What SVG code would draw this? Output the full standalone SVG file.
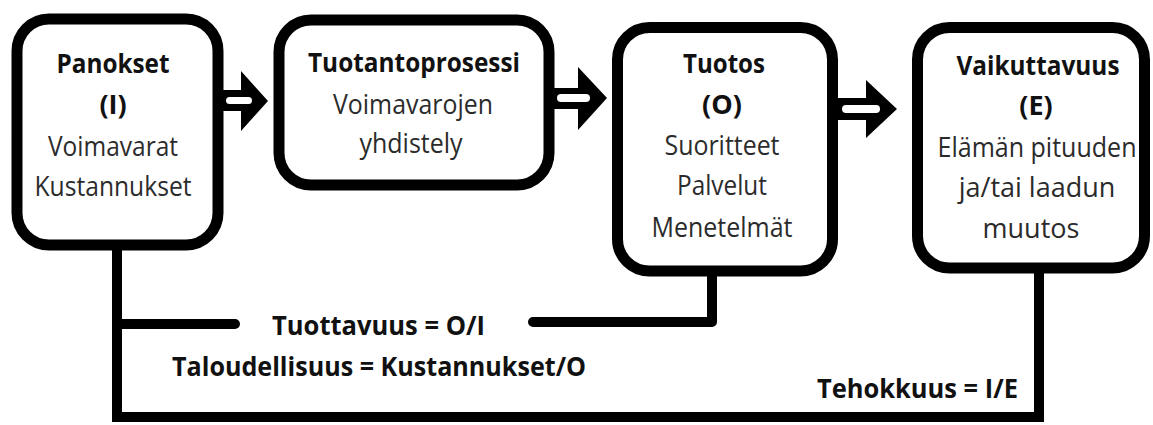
<svg xmlns="http://www.w3.org/2000/svg" width="1153" height="425" viewBox="0 0 1153 425">
<style>
.box{fill:#fff;stroke:#000;stroke-width:11}
.ln{fill:none;stroke:#000;stroke-width:10}
.t{font-family:"Open Sans","Noto Sans","Liberation Sans",sans-serif;font-size:27px;text-anchor:middle;fill:#2b2b2b}
.b{font-weight:bold;fill:#111}
.ar{fill:#000}
.aw{fill:#fff}
</style>
<rect width="1153" height="425" fill="#fff"/>
<g id="connectors">
<path class="ln" d="M117,245 V417 H1039 V268" stroke-linejoin="miter"/>
<path class="ln" d="M117,324 H235" stroke-linecap="round" stroke-width="11"/>
<path class="ln" d="M533,322 H712 V271" stroke-linecap="round" stroke-linejoin="round" stroke-width="11"/>
<g id="arrow1"><path class="ar" d="M218,90 H241 V71 L268,101 L241,131 V111 H218 Z"/><rect class="aw" x="226" y="97" width="26" height="7" rx="3.5"/></g>
<g id="arrow2"><path class="ar" d="M549,88 H578 V67 L607,98 L578,130 V109 H549 Z"/><rect class="aw" x="557" y="94" width="33" height="8" rx="4"/></g>
<g id="arrow3"><path class="ar" d="M833,98 H866 V80 L897,109 L866,138 V120 H833 Z"/><rect class="aw" x="842" y="105" width="38" height="8" rx="4"/></g>
</g>
<g id="panokset">
<rect class="box" x="17" y="19" width="201" height="226" rx="32"/>
<text class="t b" x="113" y="73" textLength="113" lengthAdjust="spacingAndGlyphs">Panokset</text>
<text class="t b" x="113" y="114">(I)</text>
<text class="t" x="113" y="156" textLength="130" lengthAdjust="spacingAndGlyphs">Voimavarat</text>
<text class="t" x="113" y="196" textLength="157" lengthAdjust="spacingAndGlyphs">Kustannukset</text>
</g>
<g id="tuotantoprosessi">
<rect class="box" x="279" y="20" width="270" height="165" rx="32" stroke-width="12"/>
<text class="t b" x="414" y="72" textLength="212" lengthAdjust="spacingAndGlyphs">Tuotantoprosessi</text>
<text class="t" x="413" y="114" textLength="160" lengthAdjust="spacingAndGlyphs">Voimavarojen</text>
<text class="t" x="411" y="153" textLength="103" lengthAdjust="spacingAndGlyphs">yhdistely</text>
</g>
<g id="tuotos">
<rect class="box" x="617.5" y="27.5" width="215" height="243.5" rx="32"/>
<text class="t b" x="724" y="73" textLength="82" lengthAdjust="spacingAndGlyphs">Tuotos</text>
<text class="t b" x="722" y="114">(O)</text>
<text class="t" x="722" y="155" textLength="115" lengthAdjust="spacingAndGlyphs">Suoritteet</text>
<text class="t" x="722" y="195" textLength="90" lengthAdjust="spacingAndGlyphs">Palvelut</text>
<text class="t" x="722" y="237" textLength="141" lengthAdjust="spacingAndGlyphs">Menetelmät</text>
</g>
<g id="vaikuttavuus">
<rect class="box" x="917.5" y="27.5" width="227" height="240.5" rx="32"/>
<text class="t b" x="1038" y="75" textLength="163" lengthAdjust="spacingAndGlyphs">Vaikuttavuus</text>
<text class="t b" x="1036" y="115">(E)</text>
<text class="t" x="1037" y="157" textLength="199" lengthAdjust="spacingAndGlyphs">Elämän pituuden</text>
<text class="t" x="1037" y="197">ja/tai laadun</text>
<text class="t" x="1031" y="238">muutos</text>
</g>
<g id="labels">
<text class="t b" x="378.5" y="335" textLength="213" lengthAdjust="spacingAndGlyphs">Tuottavuus = O/I</text>
<text class="t b" x="379" y="376" textLength="414" lengthAdjust="spacingAndGlyphs">Taloudellisuus = Kustannukset/O</text>
<text class="t b" x="917.5" y="398" textLength="201" lengthAdjust="spacingAndGlyphs">Tehokkuus = I/E</text>
</g>
</svg>
